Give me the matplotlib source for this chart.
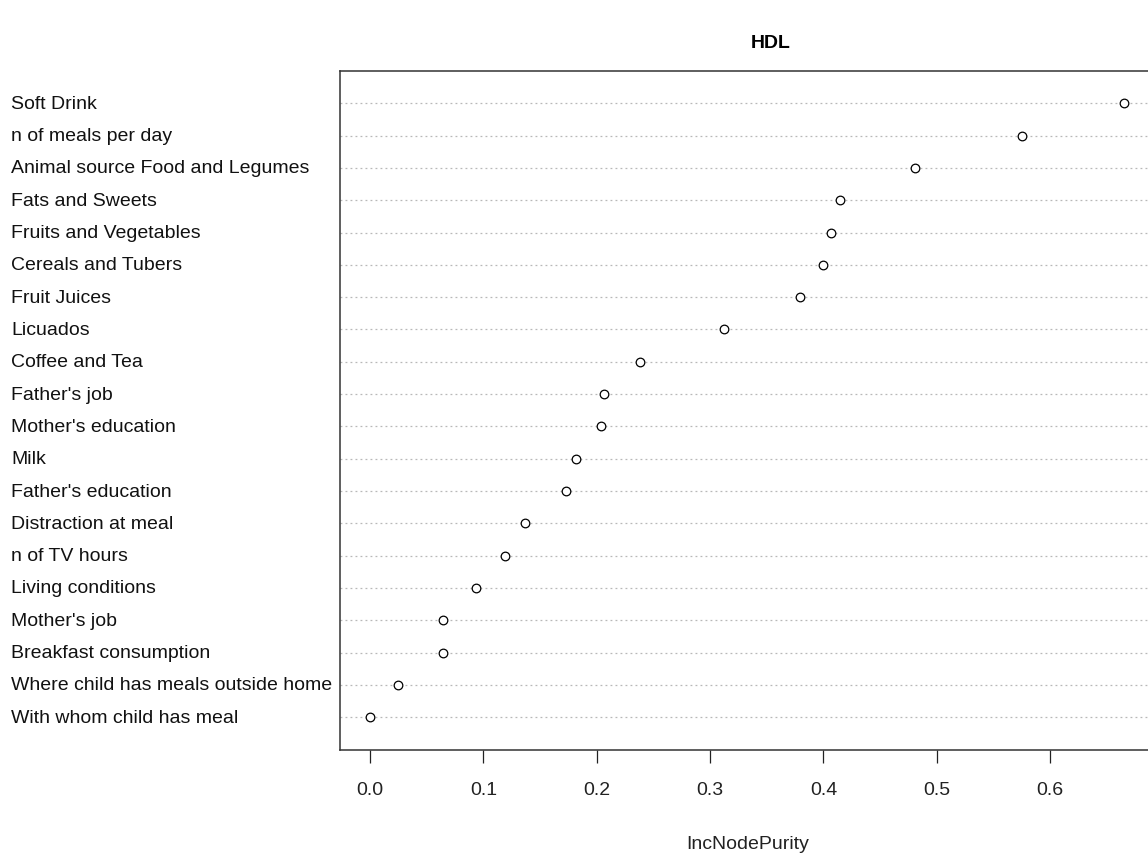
import matplotlib
matplotlib.use("Agg")
import matplotlib.pyplot as plt
import matplotlib.transforms as mtransforms

plt.rcParams['font.family'] = ['Liberation Sans', 'DejaVu Sans']

variables = [
    "Soft Drink", "n of meals per day", "Animal source Food and Legumes",
    "Fats and Sweets", "Fruits and Vegetables", "Cereals and Tubers",
    "Fruit Juices", "Licuados", "Coffee and Tea", "Father's job",
    "Mother's education", "Milk", "Father's education", "Distraction at meal",
    "n of TV hours", "Living conditions", "Mother's job",
    "Breakfast consumption", "Where child has meals outside home",
    "With whom child has meal",
]
inc_node_purity = [
    0.665, 0.575, 0.481, 0.415, 0.407, 0.400, 0.379, 0.312, 0.238, 0.206,
    0.204, 0.182, 0.173, 0.137, 0.119, 0.093, 0.064, 0.064, 0.025, 0.000,
]
xticks = [0.0, 0.1, 0.2, 0.3, 0.4, 0.5, 0.6]
tick_labels = ["0.0", "0.1", "0.2", "0.3", "0.4", "0.5", "0.6"]
title = "HDL"
xlabel = "IncNodePurity"

W, H = 1148, 854
fig = plt.figure(figsize=(W / 100, H / 100), dpi=100)
ax = fig.add_axes([340 / W, 1 - 750.5 / H, (1153.8 - 340) / W, (750.5 - 72) / H])

n = len(variables)
ypos = list(range(n, 0, -1))

for y in ypos:
    ax.axhline(y, color="#b8b8b8", lw=0.9, ls=(0, (1.5, 2.5)), zorder=1)
ax.plot(inc_node_purity, ypos, ls="none", marker="o", ms=6.2, mfc="white",
        mec="black", mew=0.9, zorder=3)

lo, hi = min(inc_node_purity), max(inc_node_purity)
r = hi - lo
ax.set_xlim(lo - 0.04 * r, hi + 0.04 * r)
ax.set_ylim(0, n + 1)

ax.set_yticks([])
ax.set_xticks(xticks)
ax.set_xticklabels(tick_labels, fontsize=14, color="#222222")
ax.tick_params(axis="x", length=9.5, width=0.9, color="#222222", pad=13)
for s in ax.spines.values():
    s.set_color("#333333")
    s.set_linewidth(1.1)

trans = mtransforms.blended_transform_factory(fig.transFigure, ax.transData)
for lab, y in zip(variables, ypos):
    ax.text(11 / W, y, lab, transform=trans, ha="left", va="center",
            fontsize=14, color="#111111", clip_on=False)

fig.text(771 / W, 1 - 43 / H, title, ha="center", va="center",
         fontsize=14, fontweight="bold")
fig.text(748 / W, 1 - 845 / H, xlabel, ha="center", va="center", fontsize=14,
         color="#222222")

fig.savefig("out.png", dpi=100)
